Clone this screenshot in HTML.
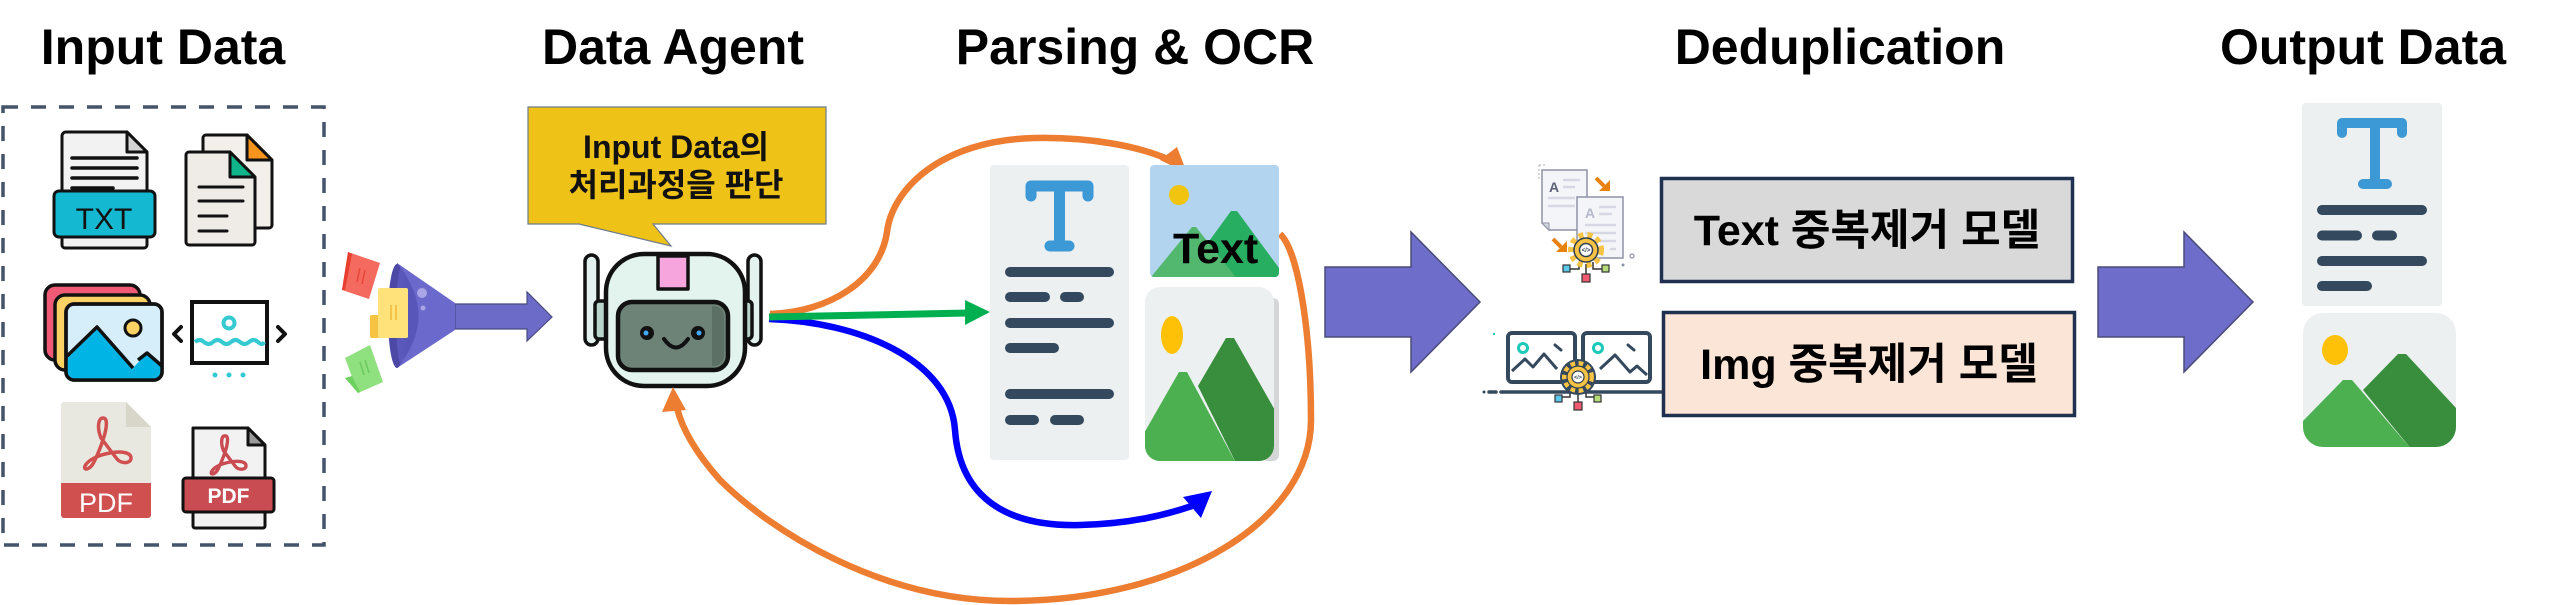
<!DOCTYPE html>
<html><head><meta charset="utf-8"><style>
html,body{margin:0;padding:0;background:#fff;}
svg{display:block}
.t{font-family:"Liberation Sans","Noto Sans CJK KR",sans-serif;font-weight:bold;}
</style></head><body>
<svg width="2560" height="605" viewBox="0 0 2560 605" xmlns="http://www.w3.org/2000/svg">
<defs>
<clipPath id="cp1"><rect x="1150" y="165" width="129" height="112" rx="4"/></clipPath>
<clipPath id="cp2"><rect x="1145" y="287" width="129" height="174" rx="15"/></clipPath>
<clipPath id="cp3"><rect x="2303" y="313" width="153" height="134" rx="20"/></clipPath>
<clipPath id="cp4"><rect x="66" y="304" width="96" height="76" rx="8"/></clipPath>
</defs>
<rect width="2560" height="605" fill="#fff"/>

<!-- Titles -->
<g class="t" font-size="50" fill="#000" text-anchor="middle">
<text x="163" y="64">Input Data</text>
<text x="673" y="64">Data Agent</text>
<text x="1135" y="64">Parsing &amp; OCR</text>
<text x="1840" y="64">Deduplication</text>
<text x="2363" y="64">Output Data</text>
</g>

<!-- Dashed input box -->
<rect x="3" y="107" width="321" height="438" fill="none" stroke="#44546a" stroke-width="3.5" stroke-dasharray="15 13"/>

<!-- TXT icon -->
<g stroke="#111" stroke-width="3" stroke-linejoin="round">
<path d="M62,230 V136 a4,4 0 0 1 4,-4 H127 L147,152 V230 Z" fill="#f2f2f2"/>
<path d="M127,132 V152 H147 Z" fill="#d5d5d5"/>
<rect x="62" y="232" width="85" height="16" rx="3" fill="#f2f2f2"/>
<rect x="54" y="191" width="101" height="46" rx="5" fill="#14b8d0"/>
</g>
<g stroke="#111" stroke-width="3.5" stroke-linecap="round">
<line x1="72" y1="158" x2="137" y2="158"/><line x1="72" y1="168" x2="137" y2="168"/>
<line x1="72" y1="178" x2="137" y2="178"/><line x1="72" y1="188" x2="113" y2="188"/>
</g>
<text x="104" y="229" font-size="30" text-anchor="middle" font-family="Liberation Sans, sans-serif" fill="#111">TXT</text>

<!-- Docs icon -->
<g stroke="#111" stroke-width="3" stroke-linejoin="round">
<path d="M203,138 a3,3 0 0 1 3,-3 H247 L272,160 V225 a3,3 0 0 1 -3,3 H206 a3,3 0 0 1 -3,-3 Z" fill="#f3f0ec"/>
<path d="M247,135 V160 H272 Z" fill="#f7941d"/>
<path d="M186,155 a3,3 0 0 1 3,-3 H230 L255,177 V242 a3,3 0 0 1 -3,3 H189 a3,3 0 0 1 -3,-3 Z" fill="#efebe7"/>
<path d="M230,152 V177 H255 Z" fill="#10b48b"/>
</g>
<g stroke="#111" stroke-width="3" stroke-linecap="round">
<line x1="199" y1="187" x2="243" y2="187"/><line x1="199" y1="201" x2="243" y2="201"/>
<line x1="199" y1="216" x2="227" y2="216"/><line x1="199" y1="231" x2="227" y2="231"/>
</g>

<!-- Image stack icon -->
<g stroke="#111" stroke-width="3.5" stroke-linejoin="round">
<rect x="45" y="285" width="95" height="75" rx="10" fill="#ef5a76"/>
<rect x="55" y="295" width="95" height="75" rx="10" fill="#fdd264"/>
<rect x="66" y="304" width="96" height="76" rx="8" fill="#d6eefa"/>
</g>
<g clip-path="url(#cp4)">
<polygon points="66,357 97,327 133,368 147,353 162,366 162,382 66,382" fill="#00b4e6"/>
<polyline points="66,357 97,327 133,368" fill="none" stroke="#111" stroke-width="3.5" stroke-linejoin="round"/>
<polyline points="138,360 147,353 162,366" fill="none" stroke="#111" stroke-width="3.5" stroke-linejoin="round"/>
</g>
<rect x="66" y="304" width="96" height="76" rx="8" fill="none" stroke="#111" stroke-width="3.5"/>
<circle cx="133" cy="328" r="8" fill="#fdd264" stroke="#111" stroke-width="3"/>

<!-- Slider icon -->
<rect x="192" y="302" width="75" height="61" fill="#fff" stroke="#111" stroke-width="4"/>
<circle cx="229" cy="323" r="5.5" fill="none" stroke="#35c9d1" stroke-width="4"/>
<path d="M195,342 q4.5,-4 9,0 t9,0 t9,0 t9,0 t9,0 t9,0 t9,0 t6,0" fill="none" stroke="#35c9d1" stroke-width="4"/>
<polyline points="181,327 174,334 181,341" fill="none" stroke="#111" stroke-width="4" stroke-linecap="round" stroke-linejoin="round"/>
<polyline points="278,327 285,334 278,341" fill="none" stroke="#111" stroke-width="4" stroke-linecap="round" stroke-linejoin="round"/>
<circle cx="215" cy="375" r="2.5" fill="#35c9d1"/><circle cx="229" cy="375" r="2.5" fill="#35c9d1"/><circle cx="243" cy="375" r="2.5" fill="#35c9d1"/>

<!-- PDF 1 -->
<path d="M61,405 a3,3 0 0 1 3,-3 H126 L151,427 V483 H61 Z" fill="#e8e8e0"/>
<path d="M126,402 V427 H151 Z" fill="#d8d6c8"/>
<path d="M61,483 H151 V515 a3,3 0 0 1 -3,3 H64 a3,3 0 0 1 -3,-3 Z" fill="#d05050"/>
<text x="106" y="512" font-size="27" text-anchor="middle" font-family="Liberation Sans, sans-serif" fill="#fff">PDF</text>
<path id="acro" d="M103,418 C98,418 97,428 101,438 L117,459 C121,464 131,464 131,458 C131,452 120,451 110,453 C98,455 88,460 85,466 C83,471 90,470 94,462 C99,452 105,436 106,428 C107,421 106,418 103,418 Z" fill="none" stroke="#d05050" stroke-width="3.5" stroke-linejoin="round"/>

<!-- PDF 2 -->
<g stroke="#111" stroke-width="3" stroke-linejoin="round">
<path d="M193,428 H248 L265,445 V478 H193 Z" fill="#f2f2f2"/>
<path d="M248,428 V445 H265 Z" fill="#9a9a9a"/>
<rect x="193" y="510" width="72" height="18" rx="2" fill="#f2f2f2"/>
<rect x="183" y="478" width="91" height="34" rx="3" fill="#c94c52"/>
</g>
<text x="228.5" y="503" font-size="21" text-anchor="middle" font-family="Liberation Sans, sans-serif" font-weight="bold" fill="#fff">PDF</text>
<g transform="translate(210,435) scale(0.75) translate(-83,-417)">
<path d="M103,418 C98,418 97,428 101,438 L117,459 C121,464 131,464 131,458 C131,452 120,451 110,453 C98,455 88,460 85,466 C83,471 90,470 94,462 C99,452 105,436 106,428 C107,421 106,418 103,418 Z" fill="none" stroke="#c94c52" stroke-width="4.5" stroke-linejoin="round"/>
</g>

<!-- Funnel arrow -->
<polygon points="455,304 527,304 527,292 552,317 527,341 527,329 455,329" fill="#6c6bc8" stroke="#4a4a80" stroke-width="1.2"/>
<polygon points="397,263 455,303 455,330 397,368" fill="#6b69cc"/>
<path d="M397,263 Q440,316 397,368 Z" fill="#5856b8"/>
<ellipse cx="397" cy="316" rx="9" ry="52" fill="#4b48a6"/>
<ellipse cx="401" cy="316" rx="5" ry="48" fill="#5a58bb"/>
<circle cx="422" cy="293" r="5" fill="#a9a6e6"/>
<circle cx="423" cy="308" r="2.5" fill="#a9a6e6"/>
<!-- papers -->
<polygon points="348,252 380,263 369,299 342,290" fill="#f56a5e"/>
<polygon points="348,252 352,254 345,290 342,290" fill="#e83e30"/>
<line x1="360" y1="268" x2="357" y2="282" stroke="#e8473a" stroke-width="1.5"/>
<line x1="365" y1="270" x2="362" y2="284" stroke="#e8473a" stroke-width="1.5"/>
<rect x="370" y="315" width="12" height="23" rx="2" fill="#f6c342"/>
<rect x="378" y="288" width="30" height="50" rx="2" fill="#ffe27a"/>
<line x1="391" y1="305" x2="391" y2="320" stroke="#f0b93a" stroke-width="1.5"/>
<line x1="396" y1="305" x2="396" y2="320" stroke="#f0b93a" stroke-width="1.5"/>
<polygon points="345,358 370,345 383,382 358,393" fill="#8fe07f"/>
<polygon points="345,378 352,376 360,392 358,393" fill="#6cd15e"/>
<line x1="360" y1="362" x2="364" y2="375" stroke="#6cc95e" stroke-width="1.5"/>
<line x1="365" y1="360" x2="369" y2="373" stroke="#6cc95e" stroke-width="1.5"/>

<!-- Speech bubble -->
<polygon points="528,107 826,107 826,224 653,224 671,246 579,224 528,224" fill="#efc218" stroke="#6e7b8b" stroke-width="1.2"/>
<g class="t" font-size="32" fill="#111" text-anchor="middle">
<text x="676" y="158">Input Data의</text>
<text x="676" y="196">처리과정을 판단</text>
</g>

<!-- Robot -->
<g stroke="#111" stroke-width="3.5" stroke-linejoin="round">
<rect x="585" y="255" width="13" height="90" rx="6.5" fill="#e3f2ee"/>
<rect x="748" y="255" width="13" height="90" rx="6.5" fill="#e3f2ee"/>
<rect x="595" y="301" width="16" height="38" rx="4" fill="#b8d5cb"/>
<rect x="736" y="301" width="16" height="38" rx="4" fill="#b8d5cb"/>
<rect x="606" y="254" width="139" height="132" rx="38" fill="#e3f3ee" stroke-width="4.5"/>
<rect x="658" y="256" width="30" height="33" fill="#f7a6dd"/>
<rect x="618" y="302" width="110" height="68" rx="14" fill="#6d8377" stroke-width="4.5"/>
</g>
<path d="M712,306 Q724,306 724,318 V354 Q724,366 712,366 Z" fill="#5d7065"/>
<circle cx="647" cy="333" r="7" fill="#111"/><circle cx="646" cy="333" r="2.5" fill="#3fa9f5"/>
<circle cx="698" cy="333" r="7" fill="#111"/><circle cx="699" cy="333" r="2.5" fill="#3fa9f5"/>
<path d="M664,339 Q676,356 688,339" fill="none" stroke="#111" stroke-width="4" stroke-linecap="round"/>

<!-- Connectors -->
<g fill="none" stroke-width="6.5" stroke-linecap="butt">
<path d="M770,314 C830,312 880,280 887,232 C892,190 940,140 1035,138 C1090,137 1140,146 1172,161" stroke="#ed7d31"/>
<path d="M1280,234 C1298,250 1311,330 1311,420 C1311,520 1180,601 1010,601 C880,601 770,530 720,480 C695,452 682,428 677,408" stroke="#ed7d31"/>
<path d="M769,319 C860,322 950,360 955,430 C960,500 1010,527 1080,525 C1130,524 1165,515 1192,506" stroke="#0000ff"/>
<path d="M769,317 L968,313" stroke="#00b050" stroke-width="7"/>
</g>
<polygon points="1187,173 1160,160 1177,147" fill="#ed7d31"/>
<polygon points="673,387 662,412 686,410" fill="#ed7d31"/>
<polygon points="1212,491 1183,497 1201,518" fill="#0000ff"/>
<polygon points="965,300 990,312 965,325" fill="#00b050"/>

<!-- Parsing text panel -->
<rect x="990" y="165" width="139" height="295" rx="4" fill="#ecf0f1"/>
<path d="M1031,196 V186 H1088 V196 M1059.5,186 V245 M1050,246 H1069" fill="none" stroke="#3d98d6" stroke-width="11" stroke-linecap="round" stroke-linejoin="round"/>
<g stroke="#34495e" stroke-width="10" stroke-linecap="round">
<line x1="1010" y1="272" x2="1109" y2="272"/>
<line x1="1010" y1="297" x2="1045" y2="297"/><line x1="1065" y1="297" x2="1079" y2="297"/>
<line x1="1010" y1="323" x2="1109" y2="323"/>
<line x1="1010" y1="348" x2="1054" y2="348"/>
<line x1="1010" y1="394" x2="1109" y2="394"/>
<line x1="1010" y1="420" x2="1034" y2="420"/><line x1="1055" y1="420" x2="1079" y2="420"/>
</g>

<!-- Parsing image top (with Text) -->
<rect x="1150" y="165" width="129" height="112" rx="4" fill="#b3d4ee"/>
<g clip-path="url(#cp1)">
<circle cx="1179" cy="195" r="10" fill="#f1c40f"/>
<polygon points="1183,277 1231,211 1237,211 1279,268 1279,280 1183,280" fill="#27ae60"/>
<polygon points="1151,280 1151,277 1192,227 1196,227 1238,280" fill="#52b86f"/>
</g>
<text class="t" x="1173" y="263" font-size="43" fill="#000">Text</text>

<!-- Parsing image bottom -->
<rect x="1262" y="298" width="17" height="163" rx="6" fill="#d5d6d7"/>
<rect x="1145" y="287" width="129" height="174" rx="15" fill="#ecf0f1"/>
<g clip-path="url(#cp2)">
<ellipse cx="1172" cy="335" rx="11" ry="19" fill="#ffc107"/>
<polygon points="1198,386 1226,338 1234,338 1276,412 1276,465 1237,465" fill="#388e3c"/>
<polygon points="1143,435 1179,372 1187,372 1237,465 1143,465" fill="#4caf50"/>
</g>

<!-- Big arrow 1 -->
<polygon points="1325,267 1411,267 1411,232 1480,302 1411,372 1411,337 1325,337" fill="#6e6dca" stroke="#4b4b7a" stroke-width="1.5"/>

<!-- Text dedup icon -->
<g>
<path d="M1542,170 H1587 V230 H1549 L1542,223 Z" fill="#f4f5f8" stroke="#8e93a6" stroke-width="1.5"/>
<path d="M1542,223 H1549 V230 Z" fill="#d6d8e0" stroke="#8e93a6" stroke-width="1"/>
<line x1="1539" y1="165" x2="1539" y2="180" stroke="#b8bccb" stroke-width="1.2" stroke-dasharray="2 2"/>
<line x1="1539" y1="165" x2="1547" y2="165" stroke="#b8bccb" stroke-width="1.2" stroke-dasharray="2 2"/>
<text x="1549" y="192" font-size="14" font-weight="bold" font-family="Liberation Sans, sans-serif" fill="#5b6079">A</text>
<g stroke="#d5d8e3" stroke-width="2.5"><line x1="1563" y1="180" x2="1580" y2="180"/><line x1="1563" y1="187" x2="1575" y2="187"/><line x1="1548" y1="198" x2="1575" y2="198"/><line x1="1548" y1="206" x2="1575" y2="206"/></g>
<rect x="1577" y="197" width="46" height="61" fill="#f4f5f8" stroke="#8e93a6" stroke-width="1.5"/>
<text x="1585" y="218" font-size="14" font-weight="bold" font-family="Liberation Sans, sans-serif" fill="#b5b9c9">A</text>
<g stroke="#d5d8e3" stroke-width="2.5"><line x1="1599" y1="207" x2="1616" y2="207"/><line x1="1599" y1="214" x2="1612" y2="214"/><line x1="1585" y1="225" x2="1616" y2="225"/><line x1="1585" y1="233" x2="1616" y2="233"/><line x1="1600" y1="241" x2="1616" y2="241"/><line x1="1610" y1="249" x2="1616" y2="249"/></g>
<line x1="1596" y1="178" x2="1604" y2="186" stroke="#e8820c" stroke-width="4"/>
<polygon points="1610,180 1610,191 1599,191" fill="#e8820c"/>
<line x1="1553" y1="239" x2="1561" y2="247" stroke="#e8820c" stroke-width="4"/>
<polygon points="1567,241 1567,252 1556,252" fill="#e8820c"/>
<path d="M1586,264 V275 M1579,262 V269 H1569 M1593,262 V269 H1603" fill="none" stroke="#333" stroke-width="1.5"/>
<circle cx="1586" cy="250" r="15" fill="none" stroke="#f6c344" stroke-width="6" stroke-dasharray="5 4"/>
<circle cx="1586" cy="250" r="12" fill="#f6c344" stroke="#2f3e4e" stroke-width="1.5"/>
<circle cx="1586" cy="250" r="6.5" fill="#fff" stroke="#2f3e4e" stroke-width="1.5"/>
<text x="1586" y="252" font-size="6" text-anchor="middle" font-family="Liberation Sans, sans-serif" font-weight="bold" fill="#2f3e4e">&lt;/&gt;</text>
<rect x="1563" y="265" width="7" height="7" fill="#5bc8ec" stroke="#333" stroke-width="1.2"/>
<rect x="1582" y="274" width="8" height="8" fill="#ee5a6f" stroke="#333" stroke-width="1.2"/>
<rect x="1602" y="265" width="7" height="7" fill="#b5dc7a" stroke="#333" stroke-width="1.2"/>
<circle cx="1632" cy="256" r="2" fill="none" stroke="#8e93a6" stroke-width="1.2"/>
<circle cx="1623" cy="265" r="1.5" fill="#8e93a6"/>
</g>

<!-- Image dedup icon -->
<g>
<line x1="1501" y1="392" x2="1662" y2="392" stroke="#34495e" stroke-width="3.5" stroke-linecap="round"/>
<line x1="1489" y1="392" x2="1496" y2="392" stroke="#34495e" stroke-width="3.5" stroke-linecap="round"/>
<circle cx="1484" cy="392" r="1.5" fill="#34495e"/>
<rect x="1508" y="333" width="67" height="49" rx="4" fill="#fff" stroke="#34495e" stroke-width="4"/>
<rect x="1583" y="333" width="67" height="49" rx="4" fill="#fff" stroke="#34495e" stroke-width="4"/>
<circle cx="1523" cy="348" r="4.5" fill="none" stroke="#1cc9b8" stroke-width="3"/>
<circle cx="1598" cy="348" r="4.5" fill="none" stroke="#1cc9b8" stroke-width="3"/>
<polyline points="1512,371 1525,359 1533,367 1544,354 1557,369" fill="none" stroke="#34495e" stroke-width="3" stroke-linejoin="round"/>
<polyline points="1600,369 1615,355 1630,372 1637,366 1647,375" fill="none" stroke="#34495e" stroke-width="3" stroke-linejoin="round"/>
<line x1="1555" y1="345" x2="1561" y2="350" stroke="#34495e" stroke-width="3" stroke-linecap="round"/>
<line x1="1628" y1="345" x2="1634" y2="350" stroke="#34495e" stroke-width="3" stroke-linecap="round"/>
<circle cx="1494" cy="334" r="1.2" fill="#1cc9b8"/>
<path d="M1578,392 V402 M1570,390 V397 H1561 M1586,390 V397 H1595" fill="none" stroke="#333" stroke-width="1.5"/>
<circle cx="1578" cy="377" r="18" fill="#34495e"/>
<circle cx="1578" cy="377" r="13.5" fill="none" stroke="#f6c344" stroke-width="5" stroke-dasharray="4.5 3.5"/>
<circle cx="1578" cy="377" r="11" fill="#f6c344" stroke="#2f3e4e" stroke-width="1.2"/>
<circle cx="1578" cy="377" r="6" fill="#fff" stroke="#2f3e4e" stroke-width="1.2"/>
<text x="1578" y="379" font-size="5.5" text-anchor="middle" font-family="Liberation Sans, sans-serif" font-weight="bold" fill="#2f3e4e">&lt;/&gt;</text>
<rect x="1555" y="395" width="7" height="7" fill="#5bc8ec" stroke="#333" stroke-width="1.2"/>
<rect x="1574" y="402" width="8" height="8" fill="#ee5a6f" stroke="#333" stroke-width="1.2"/>
<rect x="1594" y="395" width="7" height="7" fill="#b5dc7a" stroke="#333" stroke-width="1.2"/>
</g>

<!-- Dedup boxes -->
<rect x="1661.5" y="178.5" width="411" height="103" fill="#d9d9d9" stroke="#1f3050" stroke-width="3.5"/>
<rect x="1663.5" y="312.5" width="411" height="103" fill="#fbe5d6" stroke="#1f3050" stroke-width="3.5"/>
<g class="t" font-size="43" fill="#000" text-anchor="middle">
<text x="1867" y="245">Text 중복제거 모델</text>
<text x="1869" y="379">Img 중복제거 모델</text>
</g>

<!-- Big arrow 2 -->
<polygon points="2098,267 2184,267 2184,232 2253,302 2184,372 2184,337 2098,337" fill="#6e6dca" stroke="#4b4b7a" stroke-width="1.5"/>

<!-- Output text panel -->
<rect x="2302" y="103" width="140" height="203" rx="4" fill="#ecf0f1"/>
<path d="M2342,133 V123 H2402 V133 M2375,123 V183 M2363,184 H2387" fill="none" stroke="#3d98d6" stroke-width="10" stroke-linecap="round" stroke-linejoin="round"/>
<g stroke="#34495e" stroke-width="10" stroke-linecap="round">
<line x1="2322" y1="210" x2="2422" y2="210"/>
<line x1="2322" y1="235.5" x2="2357" y2="235.5"/><line x1="2377" y1="235.5" x2="2392" y2="235.5"/>
<line x1="2322" y1="261" x2="2422" y2="261"/>
<line x1="2322" y1="286" x2="2367" y2="286"/>
</g>

<!-- Output image panel -->
<rect x="2303" y="313" width="153" height="134" rx="20" fill="#ecf0f1"/>
<g clip-path="url(#cp3)">
<ellipse cx="2335" cy="350" rx="13" ry="15" fill="#ffc107"/>
<polygon points="2363,390 2398,354 2406,354 2456,408 2456,450 2412,450" fill="#388e3c"/>
<polygon points="2301,423 2343,380 2352,380 2412,450 2301,450" fill="#4caf50"/>
</g>
</svg>
</body></html>
